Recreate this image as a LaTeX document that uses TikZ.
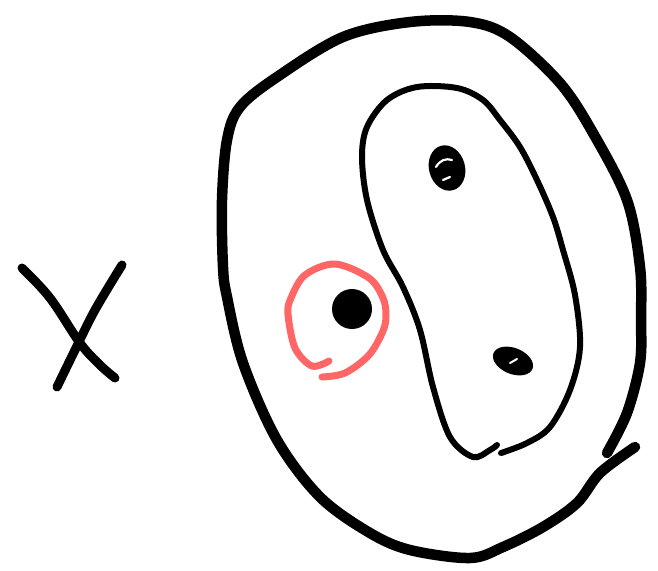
\documentclass[tikz,border=0pt]{standalone}
\definecolor{pen}{HTML}{FF6666}
\begin{document}
\begin{tikzpicture}[x=1pt,y=-1pt,line cap=round,line join=round,
  ink/.style={draw=black,line width=#1}]
\useasboundingbox (0,0) rectangle (658,570);
% X
\draw[ink=9] plot[smooth,tension=0.6] coordinates {(22,268) (50,298) (80,343) (100,365) (115,378)};
\draw[ink=9] plot[smooth,tension=0.6] coordinates {(122,265) (95,310) (75,350) (57,387)};
% outer loop
\draw[ink=10.5] plot[smooth,tension=0.55] coordinates {
 (635,447) (600,473) (577,503) (543,527) (503,547) (470,558) (410,550) (370,533)
 (320,497) (277,440) (243,363) (227,297) (223,267) (222,200) (227,140) (240,107)
 (277,77) (343,37) (410,22) (470,22) (510,37) (560,83) (593,133) (627,200)
 (640,267) (641,320) (640,363) (627,413) (607,453)};
% inner loop
\draw[ink=6] plot[smooth,tension=0.55] coordinates {
 (501,453) (527,443) (550,427) (570,390) (580,347) (575,295) (563,250)
 (553,217) (537,180) (520,147) (500,120) (483,100) (457,88) (417,87)
 (387,100) (367,127) (362,157) (367,200) (383,250) (403,287) (420,330)
 (433,387) (450,437) (473,457) (490,450) (497,445)};
% dots
\fill[rotate around={15:(447,168)}] (447,168) ellipse[x radius=18,y radius=23];
\draw[white,line width=2.2] (436,167) .. controls (440,160) and (446,158) .. (452,160);
\draw[white,line width=2.2] (443,180) -- (450,177);
\fill[rotate around={-22:(513,361)}] (513,361) ellipse[x radius=21,y radius=13];
\draw[white,line width=2] (510,363) -- (517,359);
\fill (352,309) circle[radius=20];
% red circle
\draw[draw=pen,line width=7] plot[smooth,tension=0.55] coordinates {
 (329,361) (312,366) (295,348) (288,314) (291,298) (305,275) (335,264)
 (369,278) (383,298) (386,315) (383,331) (369,355) (345,373) (322,377)};
\end{tikzpicture}
\end{document}
